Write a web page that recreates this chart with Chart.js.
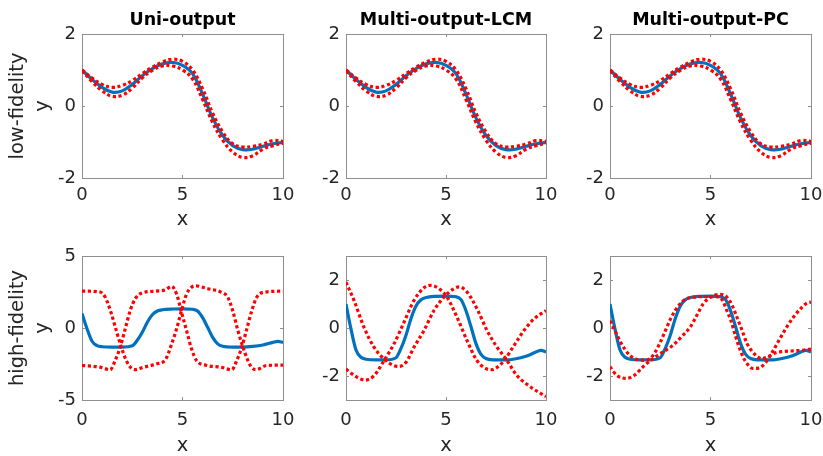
<!DOCTYPE html>
<html>
<head>
<meta charset="utf-8">
<script src="https://cdn.jsdelivr.net/npm/chart.js@4.4.1/dist/chart.umd.min.js"></script>
<style>
  html, body { margin: 0; padding: 0; background: #fff; }
  #wrap { position: relative; width: 823px; height: 456px; overflow: hidden; }
  #wrap canvas { position: absolute; left: 0; top: 0; }
</style>
</head>
<body>
<div id="wrap"></div>
<script>
// ---- data ----
const titles = ["Uni-output", "Multi-output-LCM", "Multi-output-PC"];
const rowLabels = ["low-fidelity", "high-fidelity"];
const xTicks = [0, 5, 10];
const lowYTicks = [-2, 0, 2];
const uniHighYTicks = [-5, 0, 5];
const multiHighYTicks = [-2, 0, 2];

// low-fidelity (same in all three columns)
const lowX = [0, 0.5, 1, 1.5, 2, 2.5, 3, 3.5, 4, 4.5, 5, 5.5, 6, 6.5, 7, 7.5, 8, 8.5, 9, 9.5, 10];
const lowMean = [1.0, 0.74, 0.52, 0.385, 0.42, 0.6, 0.84, 1.04, 1.17, 1.21, 1.13, 0.9, 0.33, -0.33, -0.82, -1.1, -1.21, -1.2, -1.12, -1.05, -1.01];
const lowUpper = [1.0, 0.78, 0.6, 0.52, 0.57, 0.71, 0.9, 1.08, 1.22, 1.3, 1.24, 1.0, 0.48, -0.2, -0.72, -1.05, -1.14, -1.12, -1.06, -0.96, -0.98];
const lowLower = [0.98, 0.68, 0.42, 0.27, 0.3, 0.5, 0.78, 0.99, 1.11, 1.11, 1.0, 0.75, 0.18, -0.46, -0.95, -1.28, -1.43, -1.38, -1.2, -1.1, -1.04];

// high-fidelity mean (same in all three columns)
const hiX = [0, 0.25, 0.5, 0.75, 1, 1.5, 2, 2.5, 2.75, 3, 3.25, 3.5, 3.75, 4, 4.5, 5, 5.5, 5.75, 6, 6.25, 6.5, 6.75, 7, 7.5, 8, 8.5, 9, 9.5, 9.75, 10];
const hiMean = [1.0, -0.05, -0.92, -1.22, -1.3, -1.33, -1.33, -1.24, -0.85, -0.3, 0.4, 0.92, 1.18, 1.27, 1.32, 1.33, 1.3, 1.18, 0.72, 0.05, -0.65, -1.1, -1.27, -1.33, -1.33, -1.28, -1.18, -1.0, -0.93, -1.0];

// uni-output high-fidelity bounds
const uniAX = [0, 0.9, 1.15, 1.45, 1.7, 1.95, 2.2, 2.45, 2.65, 3.05, 3.7, 4.15, 4.45, 4.7, 4.95, 5.2, 5.45, 5.65, 6.25, 6.9, 7.25, 7.5, 7.75, 8.0, 8.25, 8.45, 8.65, 9.2, 10];
const uniA = [2.56, 2.5, 2.15, 1.05, -0.15, -1.3, -2.25, -2.78, -2.89, -2.73, -2.5, -2.2, -1.15, -0.08, 1.2, 2.35, 2.83, 2.93, 2.73, 2.5, 2.15, 1.2, -0.15, -1.3, -2.25, -2.75, -2.89, -2.6, -2.58];
const uniBX = [0, 0.9, 1.4, 1.65, 1.9, 2.15, 2.4, 2.65, 2.95, 3.7, 4.15, 4.45, 4.7, 4.95, 5.2, 5.45, 5.7, 6.2, 6.9, 7.45, 7.7, 7.95, 8.2, 8.45, 8.7, 9.15, 10];
const uniB = [-2.6, -2.72, -2.9, -2.26, -1.33, -0.06, 1.22, 2.03, 2.42, 2.56, 2.65, 2.89, 2.38, 1.1, -0.17, -1.45, -2.26, -2.6, -2.72, -2.9, -2.26, -1.33, -0.06, 1.22, 2.15, 2.5, 2.56];

// LCM high-fidelity bounds
const lcmCX = [0, 0.4, 0.9, 1.4, 1.9, 2.4, 2.65, 3.0, 3.4, 3.9, 4.4, 4.9, 5.4, 5.65, 6.05, 6.55, 7.05, 7.55, 8.0, 8.55, 9.25, 10];
const lcmC = [1.91, 1.15, 0.03, -0.8, -1.29, -1.57, -1.6, -1.43, -0.8, -0.1, 0.73, 1.29, 1.64, 1.71, 1.5, 0.8, -0.1, -0.8, -1.29, -1.98, -2.47, -2.86];
const lcmDX = [0, 0.55, 0.95, 1.4, 1.9, 2.4, 2.9, 3.4, 3.9, 4.22, 4.65, 5.05, 5.55, 6.05, 6.55, 7.05, 7.25, 7.45, 7.9, 8.4, 8.9, 9.4, 10];
const lcmD = [-1.71, -2.05, -2.17, -1.99, -1.36, -0.66, 0.24, 1.15, 1.68, 1.78, 1.64, 1.29, 0.45, -0.52, -1.36, -1.71, -1.74, -1.7, -1.36, -0.73, -0.1, 0.38, 0.73];

// PC high-fidelity bounds
const pcEX = [0, 0.25, 0.5, 0.75, 1.0, 1.3, 1.65, 2.0, 2.25, 2.5, 2.75, 3.0, 3.25, 3.5, 3.8, 4.25, 4.9, 5.4, 5.6, 5.8, 6.0, 6.25, 6.5, 6.75, 7.1, 7.4, 7.75, 8.1, 8.45, 8.8, 9.15, 9.5, 9.8, 10];
const pcE = [0.3, -0.12, -0.55, -0.9, -1.15, -1.3, -1.34, -1.27, -1.0, -0.6, -0.12, 0.36, 0.74, 1.02, 1.22, 1.29, 1.31, 1.3, 1.15, 0.75, 0.35, -0.35, -0.97, -1.4, -1.68, -1.67, -1.43, -0.97, -0.45, 0.05, 0.48, 0.82, 1.04, 1.08];
const pcFX = [0, 0.32, 0.82, 1.23, 1.65, 2.15, 2.65, 3.15, 3.55, 4.0, 4.32, 4.65, 5.1, 5.45, 5.8, 6.1, 6.3, 6.55, 6.8, 7.05, 7.3, 7.55, 7.85, 8.2, 8.6, 9.2, 9.65, 10];
const pcF = [-1.61, -1.96, -2.1, -1.96, -1.61, -1.27, -0.99, -0.71, -0.37, 0.05, 0.53, 1.02, 1.33, 1.4, 1.3, 0.9, 0.48, -0.05, -0.62, -0.95, -1.17, -1.28, -1.2, -1.04, -0.98, -0.95, -0.92, -0.88];

// ---- layout ----
const W = 823, H = 456;
const colLeft = [82, 346, 610];
const colRight = [283, 546, 811];
const rowTop = [34, 256];
const rowBottom = [178, 400];
const yAxisW = 76;
const xAxisH = [52, 56];
const xTickPad = [10, 12.5];
const FONT = "'DejaVu Sans', sans-serif";
const TEXT = "#262626";
const BOX = "#8f8f8f";

function toPoints(xs, ys) {
    return xs.map((x, i) => ({ x: x, y: ys[i] }));
}

function meanLine(xs, ys, monotone) {
    return {
        data: toPoints(xs, ys),
        borderColor: "#0072BD",
        borderWidth: 3.2,
        pointRadius: 0,
        tension: 0.4,
        cubicInterpolationMode: monotone ? "monotone" : "default",
        order: 2
    };
}

function boundLine(xs, ys, monotone) {
    return {
        data: toPoints(xs, ys),
        borderColor: "#ff0000",
        borderWidth: 3.2,
        borderDash: [3.2, 2.6],
        borderCapStyle: "butt",
        pointRadius: 0,
        tension: 0.4,
        cubicInterpolationMode: monotone ? "monotone" : "default",
        order: 1
    };
}

function fixSize(prop, size) {
    return (scale) => {
        scale[prop] = size;
        scale.paddingLeft = 0;
        scale.paddingRight = 0;
        scale.paddingTop = 0;
        scale.paddingBottom = 0;
    };
}

function setTicks(values) {
    return (scale) => {
        scale.ticks = values.map((v) => ({ value: v }));
    };
}

const gridOpts = { display: true, drawOnChartArea: false, drawTicks: true, tickLength: -3, color: BOX, lineWidth: 1 };
const borderOpts = { display: true, color: BOX, width: 1 };

const panels = [
    { row: 0, col: 0, yMin: -2, yMax: 2, yTicks: lowYTicks,
      lines: [meanLine(lowX, lowMean, false), boundLine(lowX, lowUpper, false), boundLine(lowX, lowLower, false)] },
    { row: 0, col: 1, yMin: -2, yMax: 2, yTicks: lowYTicks,
      lines: [meanLine(lowX, lowMean, false), boundLine(lowX, lowUpper, false), boundLine(lowX, lowLower, false)] },
    { row: 0, col: 2, yMin: -2, yMax: 2, yTicks: lowYTicks,
      lines: [meanLine(lowX, lowMean, false), boundLine(lowX, lowUpper, false), boundLine(lowX, lowLower, false)] },
    { row: 1, col: 0, yMin: -5, yMax: 5, yTicks: uniHighYTicks,
      lines: [meanLine(hiX, hiMean, true), boundLine(uniAX, uniA, true), boundLine(uniBX, uniB, true)] },
    { row: 1, col: 1, yMin: -3, yMax: 3, yTicks: multiHighYTicks,
      lines: [meanLine(hiX, hiMean, true), boundLine(lcmCX, lcmC, true), boundLine(lcmDX, lcmD, true)] },
    { row: 1, col: 2, yMin: -3, yMax: 3, yTicks: multiHighYTicks,
      lines: [meanLine(hiX, hiMean, true), boundLine(pcEX, pcE, true), boundLine(pcFX, pcF, true)] }
];

const wrap = document.getElementById("wrap");

panels.forEach((p) => {
    const canvas = document.createElement("canvas");
    canvas.width = W;
    canvas.height = H;
    wrap.appendChild(canvas);

    const tickFont = { family: FONT, size: 18 };
    const labelFont = { family: FONT, size: 19.5, lineHeight: 24.5 / 19.5 };

    new Chart(canvas, {
        type: "line",
        data: { datasets: p.lines },
        options: {
            responsive: false,
            animation: false,
            events: [],
            layout: {
                padding: {
                    left: colLeft[p.col] - yAxisW,
                    right: W - colRight[p.col],
                    top: p.row === 0 ? 10 : rowTop[p.row],
                    bottom: H - rowBottom[p.row] - xAxisH[p.row]
                }
            },
            plugins: {
                legend: { display: false },
                tooltip: { enabled: false },
                title: {
                    display: p.row === 0,
                    fullSize: false,
                    text: titles[p.col],
                    color: "#000",
                    font: { family: FONT, size: 17.5, weight: "bold", lineHeight: 1.2 },
                    padding: { top: 0, bottom: 3 }
                }
            },
            scales: {
                x: {
                    type: "linear",
                    position: "bottom",
                    min: 0,
                    max: 10,
                    afterBuildTicks: setTicks(xTicks),
                    afterFit: fixSize("height", xAxisH[p.row]),
                    grid: gridOpts,
                    border: borderOpts,
                    ticks: { padding: xTickPad[p.row], font: tickFont, color: TEXT, maxRotation: 0, autoSkip: false,
                             callback: (v) => String(v) },
                    title: { display: true, text: "x", font: { family: FONT, size: 19.5, lineHeight: 1.0 }, color: TEXT,
                             padding: { top: 0, bottom: 0 } }
                },
                x2: {
                    type: "linear",
                    position: "top",
                    min: 0,
                    max: 10,
                    afterBuildTicks: setTicks(xTicks),
                    afterFit: fixSize("height", 0),
                    grid: gridOpts,
                    border: borderOpts,
                    ticks: { display: false }
                },
                y: {
                    type: "linear",
                    position: "left",
                    min: p.yMin,
                    max: p.yMax,
                    afterBuildTicks: setTicks(p.yTicks),
                    afterFit: fixSize("width", yAxisW),
                    grid: gridOpts,
                    border: borderOpts,
                    ticks: { padding: 9, font: tickFont, color: TEXT, callback: (v) => String(v) },
                    title: { display: p.col === 0, text: [rowLabels[p.row], "y"], font: labelFont, color: TEXT,
                             padding: { top: 0, bottom: 0 } }
                },
                y2: {
                    type: "linear",
                    position: "right",
                    min: p.yMin,
                    max: p.yMax,
                    afterBuildTicks: setTicks(p.yTicks),
                    afterFit: fixSize("width", 0),
                    grid: gridOpts,
                    border: borderOpts,
                    ticks: { display: false }
                }
            }
        }
    });
});
</script>
</body>
</html>
